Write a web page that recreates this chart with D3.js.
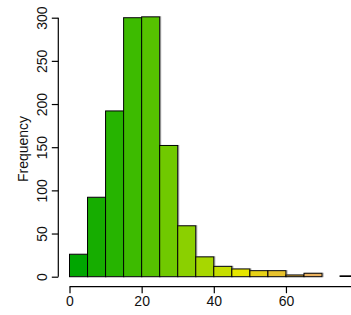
<!DOCTYPE html>
<html><head><meta charset="utf-8">
<script src="https://cdn.jsdelivr.net/npm/d3@7"></script>
<style>html,body{margin:0;padding:0;background:#fff;}svg{display:block;}text{font-family:"Liberation Sans",Arial,sans-serif;}</style>
</head><body>
<svg id="chart" width="351" height="315"></svg>
<script>
// Data
const binStarts = [0,5,10,15,20,25,30,35,40,45,50,55,60,65,70,75];
const binWidth = 5;
const frequencies = [26,92,192,300,301,152,59,23,12,9,7,7,2,4,0,1];
const xTicks = [0,20,40,60];
const yTicks = [0,50,100,150,200,250,300];
const yLabel = "Frequency";

// R terrain.colors(n)
function hsv(h,s,v){
  const i=Math.floor(h*6)%6, f=h*6-Math.floor(h*6);
  const p=v*(1-s), q=v*(1-s*f), t=v*(1-s*(1-f));
  const m=[[v,t,p],[q,v,p],[p,v,t],[p,q,v],[t,p,v],[v,p,q]][i];
  return d3.rgb(m[0]*255,m[1]*255,m[2]*255).formatHex();
}
function terrain(n){
  const k=Math.floor(n/2), out=[];
  for(let j=0;j<k;j++){const a=k>1?j/(k-1):0;
    out.push(hsv(4/12+(2/12-4/12)*a,1,0.65+0.25*a));}
  const m=n-k+1;
  for(let j=1;j<m;j++){const a=j/(m-1);
    out.push(hsv(2/12*(1-a),1-a,0.9+0.05*a));}
  return out;
}
const palette = terrain(20);

const svg = d3.select("#chart");
const x = d3.scaleLinear().domain([0,80]).range([69.5, 358.1]);
const y = d3.scaleLinear().domain([0,300]).range([276.7, 17.7]);

const defs = svg.append("defs");
const f = defs.append("filter").attr("id","sh").attr("x","-20%").attr("y","-20%").attr("width","140%").attr("height","140%");
f.append("feDropShadow").attr("dx",1).attr("dy",0).attr("stdDeviation",0.7).attr("flood-color","#777").attr("flood-opacity",0.7);

svg.append("g").selectAll("rect").data(frequencies).join("rect")
  .attr("x",(d,i)=>x(binStarts[i]))
  .attr("width",(d,i)=>x(binStarts[i]+binWidth)-x(binStarts[i]))
  .attr("y",d=>y(d))
  .attr("height",d=>y(0)-y(d))
  .attr("fill",(d,i)=>palette[i])
  .attr("stroke","#000").attr("stroke-width",1)
  .attr("filter","url(#sh)")
  .style("display",d=>d>0?null:"none");

// X axis
const gx = svg.append("g").attr("transform","translate(0,286.7)")
  .call(d3.axisBottom(x).tickValues(xTicks).tickSize(6.5).tickSizeOuter(0).tickPadding(3).tickFormat(d3.format("d")));
gx.select(".domain").attr("d",`M${x(0)},0H${x(80)}`).attr("stroke","#000").attr("stroke-width",1.2);
gx.selectAll(".tick line").attr("stroke","#000").attr("stroke-width",1.2);
gx.selectAll(".tick text").attr("font-size","14px").attr("fill","#111").attr("dy","0.72em");

// Y axis
const gy = svg.append("g").attr("transform","translate(58.3,0)")
  .call(d3.axisLeft(y).tickValues(yTicks).tickSize(6.5).tickSizeOuter(0).tickPadding(0).tickFormat(d3.format("d")));
gy.select(".domain").attr("d",`M0,${y(0)}V${y(300)}`).attr("stroke","#000").attr("stroke-width",1.2);
gy.selectAll(".tick line").attr("stroke","#000").attr("stroke-width",1.2);
gy.selectAll(".tick text").attr("font-size","14px").attr("fill","#111")
  .attr("x",0).attr("dy",0).attr("text-anchor","middle")
  .attr("transform","translate(-11.6,0) rotate(-90)");

svg.append("text").attr("transform","translate(27.5,149) rotate(-90)")
  .attr("text-anchor","middle").attr("font-size","14px").attr("fill","#111").text(yLabel);
</script>
</body></html>
